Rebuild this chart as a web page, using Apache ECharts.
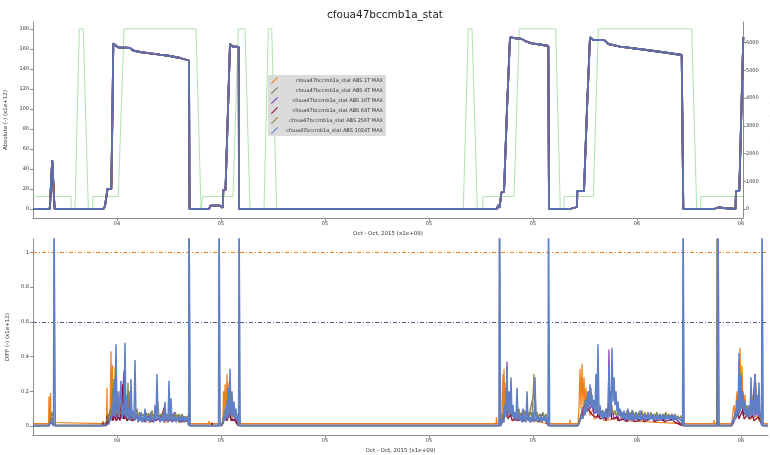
<!DOCTYPE html>
<html>
<head>
<meta charset="utf-8">
<script src="https://cdn.jsdelivr.net/npm/echarts@6/dist/echarts.min.js"></script>
<style>
  html, body { margin: 0; padding: 0; background: #fff; }
  #chart { width: 770px; height: 455px; }
</style>
</head>
<body>
<div id="chart"></div>
<script>
// Shared time axis: tick positions and their printed labels
const xTickValues = [104, 208, 312, 416, 520, 624, 728];
const xTickLabels = ['04', '05', '05', '05', '05', '06', '06'];
const absTicks = [0, 20, 40, 60, 80, 100, 120, 140, 160, 180];
const energyTicks = [0, 1000, 2000, 3000, 4000, 5000, 6000];
const diffTicks = [0, 0.2, 0.4, 0.6, 0.8, 1];

const seriesNames = [
  'cfoua47bccmb1a_stat ABS 1T MAX',
  'cfoua47bccmb1a_stat ABS 4T MAX',
  'cfoua47bccmb1a_stat ABS 16T MAX',
  'cfoua47bccmb1a_stat ABS 64T MAX',
  'cfoua47bccmb1a_stat ABS 256T MAX',
  'cfoua47bccmb1a_stat ABS 1024T MAX'
];
const seriesColors = ['#ef7f1a', '#7f6b55', '#7a34b8', '#8b0d2a', '#8b8540', '#5f80c6'];

// Threshold levels drawn on the DIFF panel (1T and 1024T)
const diffThresholds = [1, 0.6];

// Beam energy [GeV]
const energyPoints = [
  [20, 450], [58, 450], [58.2, 0], [62, 0], [66.3, 6500], [70.3, 6500], [75.3, 0], [79.7, 0],
  [79.8, 450], [105.3, 450], [111, 6500], [183, 6500], [188, 0], [189.7, 0], [189.8, 450],
  [220, 450], [225.3, 6500], [232, 6500], [237, 0], [251, 0], [255.3, 6500], [258.7, 6500],
  [263.7, 0], [450.3, 0], [455.3, 6500], [459, 6500], [464.3, 0], [469.7, 0], [469.8, 450],
  [501, 450], [506.3, 6500], [542.7, 6500], [547.3, 0], [551, 0], [551.1, 450], [580.3, 450],
  [585.3, 6500], [678.7, 6500], [683.7, 0], [687.7, 0], [687.8, 450], [730, 450]
];

// Absolute intensity (all window sizes coincide)
const absPoints = [
  [20, 0], [36.5, 0], [37, 3], [37.7, 19], [38.8, 19], [39.2, 49], [41, 49], [41.6, 0],
  [90.3, 0], [92, 3], [94, 3], [94.5, 20], [98.3, 20], [99.5, 100], [100.3, 165.5], [101, 165.5],
  [102, 164], [104.5, 162], [107, 161.5], [117, 161], [120, 158.5], [127, 157], [137, 155.7],
  [147, 154.3], [157, 153], [167, 151], [176, 148.5], [176.5, 0],
  [196, 0], [197.5, 3.3], [207, 3.3], [208, 1.3], [209.8, 1.3], [210.3, 19], [212.5, 19],
  [215, 100], [217, 165], [219.7, 162.5], [225.7, 162], [226, 0],
  [483.7, 0], [485.3, 4], [486.5, 1], [487.7, 1], [488.5, 17], [491, 17], [494, 100], [497, 171.5],
  [499, 170], [508.7, 170], [513.7, 167.3], [518.7, 165.7], [527, 164.5], [535.3, 163], [536, 0],
  [557, 0], [558, 2], [564, 2], [564.3, 18], [571, 18], [574, 100], [577, 171.7], [580.3, 169],
  [591, 169], [595.3, 165], [607, 162.3], [633.7, 159], [652, 156.5], [668.7, 154], [670.3, 0],
  [701, 0], [703, 1.5], [705, 1.5], [706, 0], [722.5, 0], [723, 18], [726.3, 18], [730.3, 172]
];

// DIFF, 1T window
const diff1T = [
  [20, 0.013], [35.5, 0.013], [36, 0.17], [36.5, 0.02], [37.5, 0.19], [38, 0.03], [39, 0.05], [40, 0.02], [41, 0.013],
  [89, 0.013], [90, 0.03], [90.5, 0.013], [93.5, 0.013], [94, 0.22], [94.5, 0.02], [96, 0.02], [97, 0.08], [98, 0.43],
  [98.5, 0.05], [99.5, 0.35], [100, 0.06], [101, 0.12], [102, 0.34], [103, 0.05], [104, 0.1], [105, 0.04], [107, 0.2],
  [108, 0.05], [110, 0.15], [111, 0.04], [113, 0.08], [114, 0.03], [117, 0.06], [118, 0.03], [125, 0.06], [126, 0.03],
  [135, 0.05], [136, 0.02], [150, 0.05], [151, 0.02], [165, 0.04], [166, 0.02], [175, 0.03], [176, 0.013],
  [195.5, 0.013], [196, 0.03], [196.5, 0.013], [209, 0.013], [210, 0.06], [210.5, 0.2], [211, 0.05], [212, 0.24],
  [213, 0.08], [214, 0.3], [215, 0.1], [216, 0.25], [217, 0.06], [218, 0.15], [219, 0.04], [221, 0.08], [222, 0.03],
  [225, 0.013], [483, 0.013], [483.5, 0.05], [484, 0.013], [488, 0.013], [489, 0.08], [490, 0.3], [490.5, 0.05],
  [491, 0.33], [492, 0.1], [493, 0.25], [494, 0.08], [496, 0.15], [497, 0.05], [500, 0.08], [501, 0.03], [510, 0.06],
  [511, 0.03], [520, 0.05], [521, 0.03], [535, 0.013], [556.5, 0.013], [557, 0.035], [557.5, 0.013], [565, 0.013],
  [566, 0.1], [567, 0.33], [568, 0.1], [569, 0.36], [570, 0.12], [571, 0.28], [572, 0.1], [573, 0.22], [574, 0.08],
  [576, 0.15], [577, 0.06], [580, 0.1], [581, 0.04], [590, 0.06], [591, 0.03], [610, 0.05], [611, 0.03], [669, 0.013],
  [700.5, 0.013], [701, 0.035], [701.5, 0.013], [719, 0.013], [720, 0.08], [721, 0.12], [722, 0.05], [724, 0.2],
  [725, 0.08], [727, 0.45], [728, 0.12], [729, 0.35], [730, 0.1], [732, 0.18], [733, 0.06], [736, 0.1], [737, 0.04],
  [745, 0.06], [746, 0.03], [749, 0.013], [755, 0.013]
];

// DIFF, 4T window
const diff4T = [
  [20, 0.004], [36, 0.004], [38, 0.05], [40, 0.03], [41, 0.004],
  [90, 0.004], [95, 0.03], [98, 0.1], [100, 0.08], [103, 0.15], [104, 0.06], [108, 0.08], [112, 0.12], [113, 0.06],
  [118, 0.07], [125, 0.06], [135, 0.07], [145, 0.06], [155, 0.06], [165, 0.06], [175, 0.05], [175.5, 0.004],
  [176, 1.3], [176.6, 1.3], [177, 0.004],
  [209, 0.004], [212, 0.06], [215, 0.12], [218, 0.08], [222, 0.05], [225, 0.004],
  [486.2, 0.004], [486.5, 1.3], [487, 1.3], [487.4, 0.004], [489, 0.04], [492, 0.12], [495, 0.1], [500, 0.07],
  [508, 0.07], [516, 0.06], [522, 0.22], [523, 0.06], [530, 0.06], [535, 0.004],
  [565, 0.004], [568, 0.06], [572, 0.12], [576, 0.15], [580, 0.1], [590, 0.08], [600, 0.07], [620, 0.07],
  [640, 0.06], [660, 0.06], [669, 0.004],
  [703.6, 0.004], [704, 1.3], [704.6, 1.3], [705, 0.004],
  [719, 0.004], [723, 0.06], [728, 0.15], [733, 0.1], [740, 0.1], [745, 0.08], [749, 0.004], [755, 0.004]
];

// DIFF, 16T window
const diff16T = [
  [20, 0.003], [36, 0.003], [38, 0.03], [40, 0.02], [41, 0.003],
  [90, 0.003], [95, 0.02], [97, 0.04], [99, 0.08], [100, 0.04], [103, 0.12], [104, 0.04], [107, 0.1], [108, 0.04],
  [111, 0.32], [111.6, 0.05], [114, 0.06], [116, 0.2], [116.6, 0.04], [120, 0.05], [121, 0.03], [125, 0.06],
  [126, 0.03], [130, 0.05], [131, 0.03], [136, 0.06], [137, 0.03], [142, 0.05], [143, 0.03], [148, 0.06],
  [149, 0.03], [155, 0.05], [156, 0.03], [162, 0.08], [163, 0.03], [168, 0.05], [169, 0.03], [175, 0.03], [176, 0.003],
  [209, 0.003], [211, 0.04], [213, 0.08], [214, 0.04], [216, 0.12], [217, 0.05], [219, 0.06], [220, 0.03],
  [223, 0.04], [225, 0.003],
  [488, 0.003], [490, 0.05], [492, 0.1], [493, 0.05], [494, 0.37], [494.6, 0.06], [497, 0.12], [498, 0.05],
  [501, 0.08], [502, 0.03], [505, 0.06], [506, 0.03], [510, 0.09], [511, 0.03], [515, 0.05], [516, 0.03],
  [520, 0.06], [521, 0.03], [526, 0.05], [527, 0.03], [532, 0.05], [533, 0.03], [535, 0.003],
  [565, 0.003], [567, 0.04], [569, 0.08], [571, 0.12], [573, 0.1], [575, 0.14], [577, 0.1], [579, 0.12],
  [581, 0.07], [584, 0.09], [585, 0.05], [588, 0.07], [590, 0.04], [594, 0.06], [595, 0.04], [596, 0.44],
  [596.6, 0.06], [600, 0.08], [601, 0.04], [605, 0.06], [606, 0.03], [611, 0.05], [612, 0.03], [618, 0.06],
  [619, 0.03], [625, 0.05], [626, 0.03], [632, 0.06], [633, 0.03], [640, 0.05], [641, 0.03], [648, 0.05],
  [649, 0.03], [656, 0.05], [657, 0.03], [663, 0.04], [664, 0.03], [669, 0.003],
  [719, 0.003], [722, 0.05], [724, 0.1], [725, 0.05], [729, 0.14], [730, 0.06], [734, 0.09], [735, 0.05],
  [738, 0.12], [739, 0.05], [742, 0.3], [742.6, 0.06], [745, 0.1], [746, 0.05], [748, 0.04], [749, 0.003], [755, 0.003]
];

// DIFF, 64T window
const diff64T = [
  [20, 0.002], [36, 0.002], [38, 0.02], [40, 0.015], [41, 0.002],
  [89.5, 0.002], [90, 0.02], [90.5, 0.002], [93.5, 0.002], [94, 0.06], [94.5, 0.01], [97, 0.03], [99, 0.05],
  [100, 0.03], [102, 0.06], [103, 0.03], [106, 0.05], [107, 0.03], [110, 0.24], [110.6, 0.04], [113, 0.05],
  [114, 0.03], [118, 0.06], [119, 0.03], [124, 0.05], [125, 0.03], [130, 0.04], [131, 0.025], [138, 0.05],
  [139, 0.025], [146, 0.04], [147, 0.025], [152, 0.12], [152.6, 0.03], [158, 0.04], [159, 0.025], [165, 0.04],
  [166, 0.025], [175, 0.03], [176, 0.002],
  [198.5, 0.002], [199, 0.02], [199.5, 0.002], [209, 0.002], [211, 0.03], [213, 0.05], [214, 0.03], [217, 0.08],
  [218, 0.03], [221, 0.04], [225, 0.002],
  [488, 0.002], [490, 0.04], [492, 0.06], [494, 0.1], [495, 0.04], [498, 0.07], [499, 0.03], [503, 0.05],
  [504, 0.03], [509, 0.04], [510, 0.025], [516, 0.05], [517, 0.025], [524, 0.04], [525, 0.025], [532, 0.04], [535, 0.002],
  [565, 0.002], [567, 0.03], [569, 0.06], [571, 0.09], [573, 0.08], [575, 0.1], [577, 0.08], [580, 0.06],
  [583, 0.05], [586, 0.07], [587, 0.04], [592, 0.05], [593, 0.03], [598, 0.2], [598.6, 0.04], [604, 0.05],
  [605, 0.03], [612, 0.04], [613, 0.025], [620, 0.05], [621, 0.025], [630, 0.04], [631, 0.025], [640, 0.05],
  [641, 0.025], [650, 0.04], [651, 0.025], [660, 0.04], [661, 0.025], [669, 0.002],
  [719, 0.002], [722, 0.04], [725, 0.08], [726, 0.04], [730, 0.1], [731, 0.04], [735, 0.07], [736, 0.04],
  [740, 0.06], [741, 0.03], [745, 0.05], [748, 0.03], [749, 0.002], [755, 0.002]
];

// DIFF, 256T window
const diff256T = [
  [20, 0.004], [36, 0.004], [37, 0.03], [38, 0.06], [39, 0.08], [40, 0.05], [41, 0.004],
  [90, 0.004], [92, 0.01], [94, 0.03], [96, 0.04], [97, 0.09], [98, 0.06], [99, 0.15], [100, 0.22], [101, 0.08],
  [102, 0.1], [103, 0.07], [104, 0.09], [105, 0.06], [106, 0.12], [107, 0.07], [108, 0.08], [109, 0.06], [110, 0.1],
  [111, 0.07], [113, 0.09], [114, 0.06], [115, 0.25], [116, 0.07], [118, 0.09], [119, 0.06], [121, 0.08], [122, 0.05],
  [124, 0.1], [125, 0.06], [127, 0.08], [128, 0.05], [130, 0.07], [131, 0.05], [133, 0.08], [134, 0.05], [136, 0.07],
  [137, 0.05], [139, 0.09], [140, 0.05], [142, 0.07], [143, 0.05], [145, 0.14], [146, 0.05], [148, 0.07], [149, 0.05],
  [151, 0.08], [152, 0.05], [154, 0.07], [155, 0.04], [157, 0.07], [158, 0.05], [160, 0.07], [161, 0.04], [163, 0.07],
  [164, 0.05], [166, 0.07], [167, 0.04], [169, 0.07], [170, 0.05], [172, 0.06], [173, 0.04], [175, 0.06], [176, 0.004],
  [209, 0.004], [210, 0.03], [211, 0.06], [212, 0.1], [213, 0.07], [214, 0.15], [215, 0.08], [216, 0.18], [217, 0.08],
  [218, 0.12], [219, 0.06], [221, 0.09], [222, 0.05], [224, 0.07], [225, 0.004],
  [488, 0.004], [489, 0.03], [490, 0.06], [491, 0.1], [492, 0.08], [493, 0.2], [494, 0.09], [495, 0.15], [496, 0.08],
  [497, 0.12], [498, 0.07], [500, 0.09], [501, 0.06], [503, 0.08], [504, 0.06], [506, 0.1], [507, 0.06], [509, 0.08],
  [510, 0.05], [512, 0.09], [513, 0.06], [515, 0.08], [516, 0.05], [518, 0.08], [519, 0.05], [521, 0.3], [522, 0.06],
  [524, 0.08], [525, 0.05], [527, 0.07], [528, 0.05], [530, 0.08], [531, 0.05], [533, 0.07], [534, 0.05], [535, 0.004],
  [565, 0.004], [566, 0.03], [568, 0.06], [569, 0.1], [571, 0.12], [572, 0.15], [573, 0.13], [575, 0.2], [576, 0.16],
  [578, 0.22], [579, 0.14], [581, 0.12], [582, 0.1], [584, 0.14], [585, 0.08], [587, 0.1], [588, 0.07], [590, 0.09],
  [591, 0.06], [593, 0.1], [594, 0.06], [596, 0.09], [597, 0.06], [599, 0.12], [600, 0.07], [602, 0.09], [603, 0.06],
  [605, 0.08], [606, 0.06], [608, 0.09], [609, 0.06], [611, 0.08], [612, 0.05], [614, 0.09], [615, 0.05], [617, 0.08],
  [618, 0.05], [620, 0.09], [621, 0.05], [623, 0.08], [624, 0.05], [626, 0.08], [627, 0.05], [629, 0.09], [630, 0.05],
  [632, 0.08], [633, 0.05], [635, 0.07], [636, 0.05], [638, 0.08], [639, 0.05], [641, 0.07], [642, 0.05], [644, 0.08],
  [645, 0.05], [647, 0.07], [648, 0.05], [650, 0.07], [651, 0.05], [653, 0.08], [654, 0.05], [656, 0.07], [657, 0.04],
  [659, 0.07], [660, 0.05], [662, 0.07], [663, 0.04], [665, 0.06], [666, 0.04], [668, 0.06], [669, 0.004],
  [719, 0.004], [720, 0.03], [722, 0.07], [723, 0.05], [725, 0.12], [726, 0.08], [728, 0.2], [729, 0.1], [731, 0.15],
  [732, 0.08], [734, 0.12], [735, 0.07], [737, 0.1], [738, 0.07], [740, 0.18], [741, 0.08], [743, 0.25], [744, 0.08],
  [746, 0.12], [747, 0.06], [748, 0.05], [749, 0.004], [755, 0.004]
];

// DIFF, 1024T window
const diff1024T = [
  [20, 0], [36, 0], [37, 0.01], [38, 0.03], [39.5, 0.02], [40.5, 0], [41, 1.3], [41.8, 1.3], [42.3, 0],
  [90, 0], [91, 0.005], [93, 0.01], [95, 0.02], [96, 0.01], [97, 0.05], [98, 0.03], [99, 0.12], [100, 0.06],
  [101, 0.27], [102, 0.05], [103, 0.47], [104, 0.08], [105, 0.2], [106, 0.05], [107, 0.15], [108, 0.26], [109, 0.04],
  [110, 0.12], [111, 0.06], [112, 0.48], [113, 0.05], [114, 0.18], [115, 0.04], [116, 0.1], [117, 0.03], [118, 0.27],
  [119, 0.04], [120, 0.09], [121, 0.03], [122, 0.38], [123, 0.04], [124, 0.07], [125, 0.02], [126, 0.06], [127, 0.03],
  [128, 0.08], [129, 0.02], [130, 0.05], [131, 0.03], [132, 0.1], [133, 0.02], [134, 0.06], [135, 0.03], [136, 0.05],
  [137, 0.02], [138, 0.08], [139, 0.03], [140, 0.05], [141, 0.02], [142, 0.12], [143, 0.03], [144, 0.3], [145, 0.04],
  [146, 0.06], [147, 0.02], [148, 0.05], [149, 0.03], [150, 0.07], [151, 0.02], [152, 0.14], [153, 0.03], [154, 0.05],
  [155, 0.02], [156, 0.26], [157, 0.03], [158, 0.16], [159, 0.02], [160, 0.05], [161, 0.03], [162, 0.06], [163, 0.02],
  [164, 0.05], [165, 0.03], [166, 0.06], [167, 0.02], [168, 0.05], [169, 0.03], [170, 0.06], [171, 0.02], [172, 0.05],
  [173, 0.03], [174, 0.05], [175, 0.02], [175.7, 0], [176, 1.3], [176.8, 1.3], [177.2, 0],
  [205.5, 0], [206, 1.3], [206.8, 1.3], [207.2, 0],
  [209, 0.005], [210, 0.02], [211, 0.06], [212, 0.03], [213, 0.12], [214, 0.04], [215, 0.22], [216, 0.05], [217, 0.33],
  [218, 0.06], [219, 0.2], [220, 0.05], [221, 0.14], [222, 0.04], [223, 0.1], [224, 0.03], [225, 0.06],
  [225.6, 0], [226, 1.3], [226.8, 1.3], [227.2, 0],
  [486, 0], [486.5, 1.3], [487.2, 1.3], [487.6, 0],
  [489, 0.01], [490, 0.04], [491, 0.02], [492, 0.12], [493, 0.05], [494, 0.34], [495, 0.06], [496, 0.2], [497, 0.07],
  [498, 0.28], [499, 0.05], [500, 0.12], [501, 0.04], [502, 0.08], [503, 0.03], [504, 0.22], [505, 0.04], [506, 0.07],
  [507, 0.03], [508, 0.06], [509, 0.02], [510, 0.1], [511, 0.03], [512, 0.06], [513, 0.02], [514, 0.2], [515, 0.03],
  [516, 0.06], [517, 0.02], [518, 0.05], [519, 0.03], [520, 0.08], [521, 0.02], [522, 0.28], [523, 0.03], [524, 0.06],
  [525, 0.02], [526, 0.05], [527, 0.03], [528, 0.07], [529, 0.02], [530, 0.05], [531, 0.03], [532, 0.06], [533, 0.02],
  [534, 0.05], [535, 0], [535.5, 1.3], [536.2, 1.3], [536.6, 0],
  [565, 0], [566, 0.01], [567, 0.03], [568, 0.02], [569, 0.06], [570, 0.04], [571, 0.1], [572, 0.06], [573, 0.15],
  [574, 0.08], [575, 0.2], [576, 0.1], [577, 0.24], [578, 0.12], [579, 0.18], [580, 0.1], [581, 0.15], [582, 0.08],
  [583, 0.3], [584, 0.07], [585, 0.47], [586, 0.06], [587, 0.12], [588, 0.05], [589, 0.09], [590, 0.04], [591, 0.08],
  [592, 0.05], [593, 0.1], [594, 0.04], [595, 0.07], [596, 0.35], [597, 0.05], [598, 0.08], [599, 0.45], [600, 0.14],
  [601, 0.28], [602, 0.12], [603, 0.2], [604, 0.08], [605, 0.14], [606, 0.06], [607, 0.1], [608, 0.05], [609, 0.08],
  [610, 0.04], [611, 0.09], [612, 0.03], [613, 0.07], [614, 0.04], [615, 0.1], [616, 0.03], [617, 0.07], [618, 0.04],
  [619, 0.09], [620, 0.03], [621, 0.06], [622, 0.04], [623, 0.08], [624, 0.03], [625, 0.06], [626, 0.04], [627, 0.09],
  [628, 0.03], [629, 0.06], [630, 0.04], [631, 0.07], [632, 0.03], [633, 0.06], [634, 0.04], [635, 0.08], [636, 0.03],
  [637, 0.06], [638, 0.04], [639, 0.07], [640, 0.03], [641, 0.06], [642, 0.04], [643, 0.07], [644, 0.03], [645, 0.06],
  [646, 0.04], [647, 0.07], [648, 0.03], [649, 0.06], [650, 0.04], [651, 0.07], [652, 0.03], [653, 0.06], [654, 0.04],
  [655, 0.06], [656, 0.03], [657, 0.06], [658, 0.04], [659, 0.07], [660, 0.03], [661, 0.06], [662, 0.04], [663, 0.06],
  [664, 0.03], [665, 0.05], [666, 0.04], [667, 0.06], [668, 0.03], [669, 0.05],
  [669.6, 0], [670, 1.3], [670.8, 1.3], [671.2, 0],
  [704.5, 0], [705, 1.3], [705.8, 1.3], [706.2, 0],
  [718, 0], [719, 0.01], [720, 0.04], [721, 0.02], [722, 0.08], [723, 0.04], [724, 0.15], [725, 0.06], [726, 0.42],
  [727, 0.08], [728, 0.3], [729, 0.1], [730, 0.2], [731, 0.08], [732, 0.14], [733, 0.06], [734, 0.1], [735, 0.05],
  [736, 0.12], [737, 0.05], [738, 0.28], [739, 0.06], [740, 0.15], [741, 0.05], [742, 0.3], [743, 0.07], [744, 0.18],
  [745, 0.06], [746, 0.25], [747, 0.05], [748, 0.08], [748.6, 0], [749, 1.3], [749.8, 1.3], [750.2, 0], [755, 0]
];

const diffSets = [diff1T, diff4T, diff16T, diff64T, diff256T, diff1024T];

const FONT = 'DejaVu Sans';
const axisGray = '#8c8c8c';
const labelColor = '#333';
const energyColor = '#aee3ae';

function xAxisFor(gridIndex, max) {
  return {
    type: 'value', gridIndex, min: 20, max,
    name: 'Oct - Oct, 2015 (x1e+09)', nameLocation: 'middle', nameGap: 13,
    nameTextStyle: { fontFamily: FONT, fontSize: 5.5, color: labelColor },
    axisLine: { show: true, onZero: false, lineStyle: { color: axisGray, width: 1 } },
    axisTick: { show: true, length: 3, customValues: xTickValues, lineStyle: { color: axisGray } },
    axisLabel: {
      customValues: xTickValues, margin: 3, fontFamily: FONT, fontSize: 5, color: labelColor,
      formatter: v => xTickLabels[xTickValues.indexOf(v)] ?? ''
    },
    splitLine: { show: false }
  };
}

const plain = v => String(v);

const chart = echarts.init(document.getElementById('chart'), null, { renderer: 'canvas' });

const series = [];
series.push({
  name: 'Energy', type: 'line', xAxisIndex: 0, yAxisIndex: 1, data: energyPoints,
  showSymbol: false, silent: true, z: 1,
  lineStyle: { color: energyColor, width: 1 }, itemStyle: { color: energyColor }
});
seriesNames.forEach((name, i) => {
  series.push({
    name, type: 'line', xAxisIndex: 0, yAxisIndex: 0, data: absPoints,
    showSymbol: false, z: 2 + i,
    lineStyle: { color: i === 5 ? '#5a6fb3' : seriesColors[i], width: 1.8 },
    itemStyle: { color: seriesColors[i] }
  });
});
seriesNames.forEach((name, i) => {
  const s = {
    name, type: 'line', xAxisIndex: 1, yAxisIndex: 2, data: diffSets[i],
    showSymbol: false, z: 2 + i, clip: true,
    lineStyle: { color: seriesColors[i], width: i === 5 ? 1.5 : 1.2 },
    itemStyle: { color: seriesColors[i] }
  };
  if (i === 0 || i === 5) {
    s.markLine = {
      silent: true, symbol: 'none', label: { show: false },
      lineStyle: { color: i === 0 ? '#ef7f1a' : '#4b5d8c', type: [4, 2, 1, 2], width: 1.1 },
      data: [{ yAxis: diffThresholds[i === 0 ? 0 : 1] }]
    };
  }
  series.push(s);
});

chart.setOption({
  animation: false,
  backgroundColor: '#ffffff',
  title: {
    text: 'cfoua47bccmb1a_stat', left: 'center', top: 5,
    textStyle: { fontFamily: FONT, fontSize: 10.5, fontWeight: 'normal', color: '#222' }
  },
  legend: {
    data: seriesNames, orient: 'vertical', left: 268, top: 75,
    padding: [2, 3, 2, 3], itemGap: 3, itemWidth: 7, itemHeight: 7, itemStyle: { borderWidth: 0 },
    icon: 'path://M0,9 L9,0 L10,1 L1,10 Z',
    backgroundColor: 'rgba(215,215,215,0.9)',
    formatter: '{n|{name}}',
    textStyle: {
      fontFamily: FONT, fontSize: 5, color: '#333',
      rich: { n: { width: 100, align: 'right', fontFamily: FONT, fontSize: 5, color: '#333' } }
    }
  },
  grid: [
    { left: 33, right: 27, top: 22, height: 196, containLabel: false, outerBoundsMode: 'none' },
    { left: 33, right: 2, top: 239, height: 196, containLabel: false, outerBoundsMode: 'none' }
  ],
  xAxis: [xAxisFor(0, 730), xAxisFor(1, 755)],
  yAxis: [
    {
      type: 'value', gridIndex: 0, min: -9, max: 187, position: 'left',
      name: 'Absolute (-) (x1e+12)', nameLocation: 'middle', nameGap: 19,
      nameTextStyle: { fontFamily: FONT, fontSize: 5.5, color: labelColor },
      axisLine: { show: true, lineStyle: { color: axisGray } },
      axisTick: { show: true, length: 3, customValues: absTicks, lineStyle: { color: axisGray } },
      axisLabel: { customValues: absTicks, margin: 4, fontFamily: FONT, fontSize: 5, color: labelColor, formatter: plain },
      splitLine: { show: false }
    },
    {
      type: 'value', gridIndex: 0, min: -325, max: 6746, position: 'right',
      name: 'Energy [GeV]', nameLocation: 'middle', nameGap: 20, nameRotate: 90,
      nameTextStyle: { fontFamily: FONT, fontSize: 5.5, color: energyColor },
      axisLine: { show: true, lineStyle: { color: axisGray } },
      axisTick: { show: true, length: 3, customValues: energyTicks, lineStyle: { color: axisGray } },
      axisLabel: { customValues: energyTicks, margin: 3, fontFamily: FONT, fontSize: 5, color: labelColor, formatter: plain },
      splitLine: { show: false }
    },
    {
      type: 'value', gridIndex: 1, min: -0.052, max: 1.077, position: 'left',
      name: 'DIFF (-) (x1e+12)', nameLocation: 'middle', nameGap: 19,
      nameTextStyle: { fontFamily: FONT, fontSize: 5.5, color: labelColor },
      axisLine: { show: true, lineStyle: { color: axisGray } },
      axisTick: { show: true, length: 3, customValues: diffTicks, lineStyle: { color: axisGray } },
      axisLabel: { customValues: diffTicks, margin: 4, fontFamily: FONT, fontSize: 5, color: labelColor, formatter: plain },
      splitLine: { show: false }
    }
  ],
  series
});
</script>
</body>
</html>
